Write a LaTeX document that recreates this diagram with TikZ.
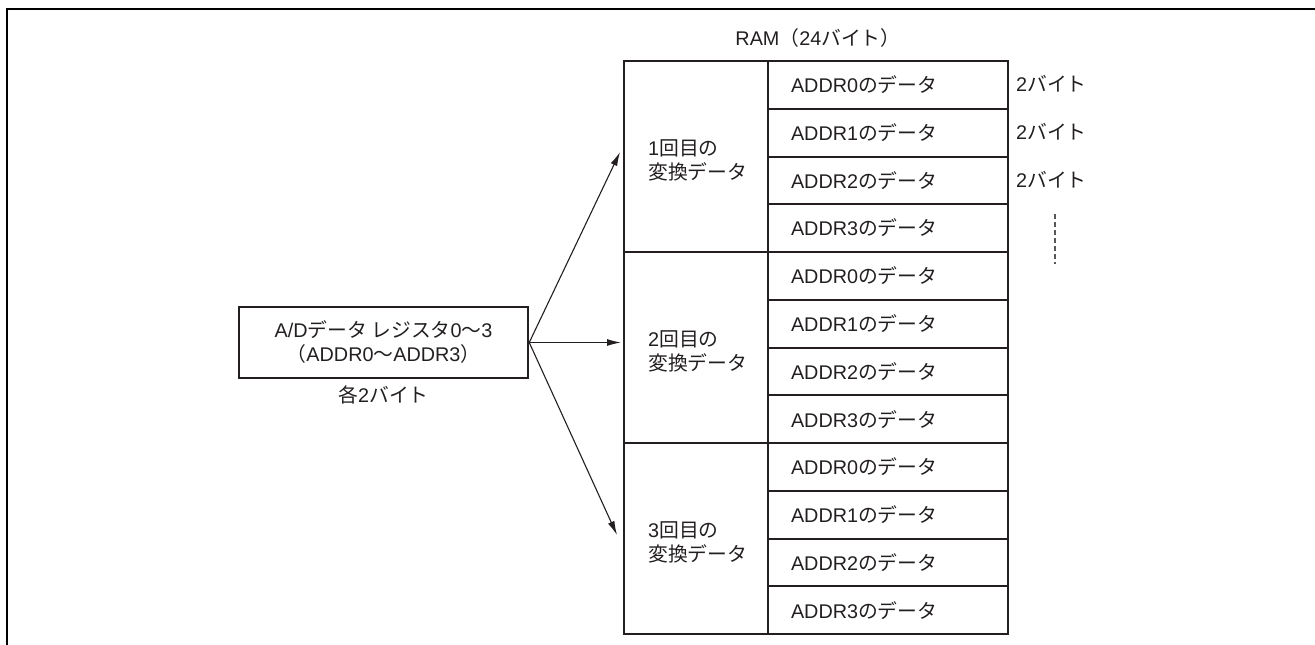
\documentclass[tikz,border=0pt]{standalone}
\usepackage{fontspec}
\setmainfont{Liberation Sans}
\newfontfamily\jpf{Noto Sans CJK JP}
\newcommand\J[1]{{\jpf #1}}
\usetikzlibrary{arrows.meta}
\definecolor{ink}{HTML}{231F20}
\begin{document}
\begin{tikzpicture}[x=1pt,y=-1pt,
  font=\fontsize{19.8}{24}\selectfont, text=ink,
  tbl/.style={draw=ink, line width=2pt},
  cell/.style={tbl, anchor=north west, minimum height=47.75pt, inner xsep=23pt, text width=194pt, align=left},
  grp/.style={tbl, anchor=north west, minimum width=144pt, minimum height=191pt},
  grplabel/.style={anchor=west, align=left, inner sep=0pt},
  arr/.style={draw=ink, line width=1.1pt, -{Latex[length=14pt,width=7pt]}},
  frame/.style={draw=black, line width=2.4pt}]
\useasboundingbox (0,0) rectangle (1315,645);
% frame
\coordinate (fr) at (1315,9);
\coordinate (fc) at (7,9);
\coordinate (fb) at (7,646);
\draw[frame] (fr) -- (fc) -- (fb);
% title
\node (ram) at (818,38) {RAM\J{（}24\J{バイト）}};
% groups
\foreach \k/\n in {0/1,1/2,2/3}{
  \node[grp] (g\n) at (623,{60+191*\k}) {};
  \node[grplabel] (gl\n) at (648,{160+191*\k}) {\n\J{回目の}\\\J{変換データ}};
}
% cells
\foreach \k in {0,...,11}{
  \pgfmathtruncatemacro\a{mod(\k,4)}
  \node[cell] (c\k) at (767,{60+47.75*\k}) {ADDR\a\J{のデータ}};
}
% byte labels
\foreach \k in {0,1,2}{
  \node[anchor=west, inner sep=0pt] (b\k) at (1016,{84+47.75*\k}) {2\J{バイト}};
}
\coordinate (d1) at (1055,214);
\coordinate (d2) at (1055,264);
\draw[draw=ink!75, line width=1.8pt, dash pattern=on 5pt off 3pt] (d1) -- (d2);
% register box
\node[draw=ink, line width=2.5pt, minimum width=289pt, minimum height=71pt, align=center] (reg) at (383.5,342.5)
  {A/D\J{データ レジスタ}0\J{～}3\\\J{（}ADDR0\J{～}ADDR3\J{）}};
\node[anchor=north] (each) at ([yshift=-3pt]reg.south) {\J{各}2\J{バイト}};
% arrows
\coordinate (t1) at (620,152);
\coordinate (t2) at (621,342.5);
\coordinate (t3) at (617,535);
\draw[arr] (reg.east) -- (t1);
\draw[arr] (reg.east) -- (t2);
\draw[arr] (reg.east) -- (t3);
\end{tikzpicture}
\end{document}
